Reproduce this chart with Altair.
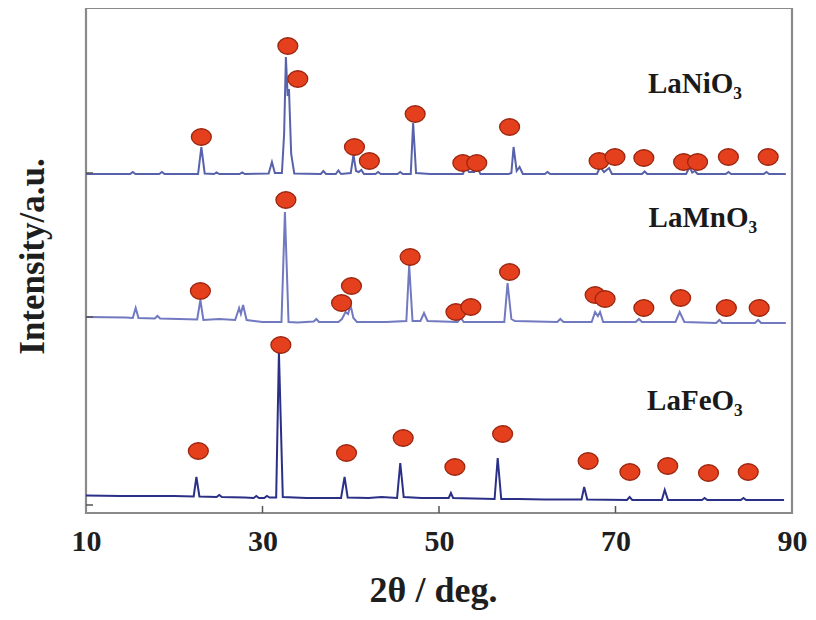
import altair as alt
import pandas as pd

# ---- data (2θ in degrees, intensity in a.u.) ----
patterns = ["LaNiO₃", "LaMnO₃", "LaFeO₃"]
offsets = [339, 191, 15]          # vertical stacking offsets (a.u.)
line_colors = ["#5862aa", "#7179c0", "#2b3087"]

ni_trace = [(10.0, 0), (15.0, 0), (15.3, 2), (15.6, 0), (18.3, 0), (18.6, 2), (18.9, 0),
            (22.7, 0), (23.07, 27), (23.45, 0.5), (24.5, 0), (24.8, 1.5), (25.1, 0),
            (27.4, 0), (27.7, 1.5), (28.0, 0), (30.7, 0.5), (31.07, 12), (31.4, 1),
            (32.2, 1), (32.45, 40), (32.65, 117), (32.85, 78), (33.0, 85), (33.25, 20),
            (33.6, 0.5), (36.6, 0), (36.9, 3), (37.2, 0), (38.3, 0), (38.6, 3.5), (38.9, 0),
            (40.0, 1), (40.31, 19), (40.6, 3), (40.9, 2), (41.2, 4), (41.5, 0), (42.8, 0),
            (43.1, 2), (43.4, 0), (45.3, 0), (45.6, 2), (45.9, 0), (46.8, 0), (47.07, 51),
            (47.4, 1), (49.0, 0), (52.7, 0), (53.04, 7), (53.4, 2), (54.0, 2), (54.35, 6),
            (54.7, 0), (57.9, 0), (58.2, 1), (58.45, 27), (58.8, 3), (59.13, 7), (59.5, 0),
            (62.0, 0), (62.3, 2), (62.6, 0), (67.9, 0), (68.25, 7), (68.7, 2), (69.27, 6),
            (69.6, 0), (73.0, 0), (73.3, 2.5), (73.6, 0), (78.0, 0), (78.39, 7), (78.7, 1.5),
            (79.0, 3), (79.3, 0), (82.5, 0), (82.8, 2), (83.1, 0), (86.8, 0), (87.1, 2),
            (87.4, 0), (89.3, 0)]

mn_trace = [(10.0, 5), (14.5, 4.5), (15.3, 4), (15.63, 14), (15.95, 4), (17.8, 3.5), (18.1, 6),
            (18.4, 3.5), (22.6, 2.5), (22.96, 22), (23.3, 2), (25.1, 3), (26.9, 2), (27.35, 14),
            (27.55, 8), (27.8, 17), (28.2, 2), (30.0, 0), (32.15, 0), (32.54, 110), (32.95, 0),
            (34.0, -0.5), (35.8, 0.5), (36.1, 3), (36.4, 0), (38.6, 0), (39.0, 3), (39.41, 10),
            (39.7, 8), (39.97, 17), (40.3, 4), (40.7, 0), (44.0, 0), (46.3, 1), (46.62, 57),
            (47.0, 1), (47.9, 1), (48.3, 9), (48.7, 1), (52.1, 0), (52.48, 4), (52.8, 0),
            (57.4, 0), (57.77, 39), (58.2, 3), (58.6, 1), (63.4, 0), (63.75, 3), (64.1, 0),
            (67.3, 0), (67.69, 10), (68.0, 6), (68.25, 10), (68.6, 0), (72.3, 0), (72.65, 3),
            (73.0, 0), (76.8, 0), (77.27, 10), (77.8, 0), (81.4, -1), (81.77, 2), (82.1, -1),
            (85.8, -1), (86.17, 2), (86.5, -1), (89.3, -1)]

fe_trace = [(10.0, 2.5), (14.0, 2), (20.0, 2), (22.2, 1.5), (22.51, 21), (22.85, 1.5), (24.8, 1),
            (25.1, 3), (25.4, 1), (28.0, 0.5), (29.0, 0), (29.3, 2), (29.6, 0), (30.2, 0),
            (30.5, 2), (30.8, 0.5), (31.55, 0.5), (31.86, 146), (32.3, 1), (35.0, 0), (38.9, 0),
            (39.3, 21), (39.65, 0.5), (42.0, 0), (43.5, 1), (45.25, 0), (45.61, 35), (46.0, 1),
            (48.0, 0), (51.1, 0), (51.35, 5), (51.6, 0), (56.3, -1), (56.65, 40), (57.05, -1),
            (59.0, -1), (62.0, -1.5), (66.15, -1.5), (66.45, 11), (66.8, -1.5), (71.3, -2),
            (71.6, 1), (71.9, -2), (75.25, -2), (75.58, 8), (75.95, -2), (79.8, -2), (80.1, 0),
            (80.4, -2), (84.2, -2), (84.5, 0), (84.8, -2), (89.1, -2)]

# perovskite reflection markers (2θ, height above the pattern's baseline)
ni_marks = [(23.07, 37), (32.87, 128), (34.0, 95), (40.42, 27), (42.11, 13), (47.3, 60),
            (52.7, 11), (54.28, 11), (58.0, 47), (68.14, 13), (69.94, 17), (73.21, 16),
            (77.72, 12), (79.3, 12), (82.79, 17), (87.3, 17)]
mn_marks = [(22.96, 31), (32.65, 122), (38.96, 19), (40.08, 36), (46.73, 65), (51.92, 10),
            (53.61, 15), (58.0, 50), (67.69, 27), (68.82, 23), (73.21, 14), (77.38, 24),
            (82.56, 14), (86.28, 14)]
fe_marks = [(22.73, 47), (32.08, 153), (39.52, 45), (45.94, 60), (51.8, 31), (57.21, 64),
            (66.9, 37), (71.63, 26), (75.92, 32), (80.54, 25), (85.04, 26)]

label_pos = [(79.0, 90), (79.9, 104), (79.0, 97)]

x_ticks = [10, 30, 50, 70, 90]
inner_x_ticks = [30, 50, 70]
inner_y_ticks = [8, 196, 340]

traces = [ni_trace, mn_trace, fe_trace]
marks = [ni_marks, mn_marks, fe_marks]

line_rows, mark_rows, label_rows = [], [], []
for name, off, tr, mk, lp in zip(patterns, offsets, traces, marks, label_pos):
    for t, v in tr:
        line_rows.append({"pattern": name, "two_theta": t, "intensity": v + off})
    for t, v in mk:
        mark_rows.append({"pattern": name, "two_theta": t, "intensity": v + off})
    label_rows.append({"pattern": name, "two_theta": lp[0], "intensity": lp[1] + off})

lines_df = pd.DataFrame(line_rows)
marks_df = pd.DataFrame(mark_rows)
labels_df = pd.DataFrame(label_rows)
xt_df = pd.DataFrame({"two_theta": inner_x_ticks})
yt_df = pd.DataFrame({"intensity": inner_y_ticks})

SERIF = "Liberation Serif"

x_axis = alt.Axis(values=x_ticks, title="2θ / deg.", grid=False, ticks=False, domain=False,
                  labelFont=SERIF, labelFontWeight="bold", labelFontSize=30, labelColor="#1e1e1e",
                  labelBaseline="alphabetic", labelPadding=37, labelFlush=False, labelOverlap=False,
                  titleFont=SERIF, titleFontWeight="bold", titleFontSize=36, titleColor="#1e1e1e",
                  titleBaseline="alphabetic", titleAlign="center", titleX=347, titleY=88)
y_axis = alt.Axis(title="Intensity/a.u.", grid=False, ticks=False, domain=False, labels=False,
                  titleFont=SERIF, titleFontWeight="bold", titleFontSize=35, titleColor="#1e1e1e",
                  titleBaseline="alphabetic", titleAlign="center", titleAngle=270,
                  titleX=-43, titleY=248)

xscale = alt.Scale(domain=[10, 90], zero=False, nice=False)
yscale = alt.Scale(domain=[0, 505], zero=False, nice=False)


def X():
    return alt.X("two_theta:Q", scale=xscale, axis=x_axis)


def Y():
    return alt.Y("intensity:Q", scale=yscale, axis=y_axis)


lines = alt.Chart(lines_df).mark_line(strokeWidth=2).encode(
    x=X(), y=Y(),
    color=alt.Color("pattern:N", scale=alt.Scale(domain=patterns, range=line_colors), legend=None),
)

ellipse = "M -1.15 0 A 1.15 0.95 0 1 0 1.15 0 A 1.15 0.95 0 1 0 -1.15 0 Z"
points = alt.Chart(marks_df).mark_point(
    shape=ellipse, filled=True, fill="#e5401d", stroke="#9c2710", strokeWidth=1.3,
    size=300, opacity=1,
).encode(x=X(), y=Y())

labels = alt.Chart(labels_df).mark_text(
    font=SERIF, fontWeight="bold", fontSize=29, color="#1a1a1a", align="center", baseline="middle"
).encode(x=X(), y=Y(), text="pattern:N")

xticks = alt.Chart(xt_df).mark_rule(color="#555555", strokeWidth=1.5).encode(
    x=X(), y=alt.value(505), y2=alt.value(498))
yticks = alt.Chart(yt_df).mark_rule(color="#555555", strokeWidth=1.5).encode(
    y=Y(), x=alt.value(0), x2=alt.value(7))

chart = alt.layer(lines, points, labels, xticks, yticks).properties(
    width=706, height=505,
    autosize=alt.AutoSizeParams(type="none"),
    padding={"left": 78, "top": 0, "right": 16, "bottom": 99},
).configure_view(stroke="#8a8a8a", strokeWidth=2.2)

chart.save("out.html", embed_options={"renderer": "svg", "actions": False})
